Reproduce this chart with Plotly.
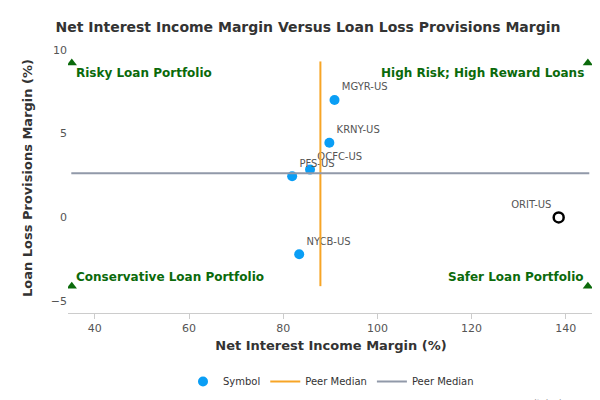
import plotly.graph_objects as go

symbols = ["MGYR-US", "KRNY-US", "OCFC-US", "PFS-US", "NYCB-US"]
nim = [90.9, 89.8, 85.7, 81.9, 83.4]
llp = [7.0, 4.45, 2.85, 2.45, -2.2]
orit_x, orit_y = [138.5], [0.0]
peer_x = 87.9
peer_y = 2.63
x_range = [34.3, 146]
y_range = [-5.7, 10.4]

fig = go.Figure()
fig.add_trace(go.Scatter(x=nim, y=llp, mode="markers+text", text=symbols,
                         textposition="top right", textfont=dict(size=10, color="#555"),
                         marker=dict(size=10, color="#0a9ef5"), name="Symbol"))
fig.add_trace(go.Scatter(x=orit_x, y=orit_y, mode="markers+text", text=["ORIT-US"],
                         textposition="top left", textfont=dict(size=10, color="#555"),
                         marker=dict(size=10, color="white", line=dict(color="black", width=2.5)),
                         showlegend=False))
fig.add_trace(go.Scatter(x=[peer_x, peer_x], y=[-4.1, 9.3], mode="lines",
                         line=dict(color="#f7a526", width=2), name="Peer Median"))
fig.add_trace(go.Scatter(x=[35, 145], y=[peer_y, peer_y], mode="lines",
                         line=dict(color="#9199a9", width=2), name="Peer Median"))
fig.add_trace(go.Scatter(x=[35.1, 144.7, 35.1, 144.7], y=[9.2, 9.2, -4.1, -4.1], mode="markers",
                         marker=dict(symbol="triangle-up", size=9, color="#0b6a0b"),
                         showlegend=False, hoverinfo="skip"))

corner = [("Risky Loan Portfolio", 35.6, 8.6, "left"),
          ("High Risk; High Reward Loans", 144.2, 8.6, "right"),
          ("Conservative Loan Portfolio", 35.6, -3.55, "left"),
          ("Safer Loan Portfolio", 144.2, -3.55, "right")]
for t, x, y, a in corner:
    fig.add_annotation(x=x, y=y, text="<b>" + t + "</b>", showarrow=False, xanchor=a,
                       font=dict(size=12, color="#0b6a0b", family="DejaVu Sans"))

fig.add_annotation(x=1, y=-0.36, xref="paper", yref="paper", text="www.capitalcube.com",
                   showarrow=False, xanchor="right", font=dict(size=9, color="#999"))

fig.update_layout(
    width=600, height=400, plot_bgcolor="white", paper_bgcolor="white",
    margin=dict(l=60, r=14, t=35, b=82),
    font=dict(family="DejaVu Sans", color="#333"),
    title=dict(text="<b>Net Interest Income Margin Versus Loan Loss Provisions Margin</b>",
               x=0.5, y=0.965, font=dict(size=14, color="#333")),
    xaxis=dict(range=x_range, tickvals=[40, 60, 80, 100, 120, 140], showgrid=False,
               zeroline=False, showline=True, linecolor="#ccc", ticks="outside",
               tickcolor="#ccc", tickfont=dict(size=11, color="#555"),
               title=dict(text="<b>Net Interest Income Margin (%)</b>", font=dict(size=13), standoff=6)),
    yaxis=dict(range=y_range, tickvals=[-5, 0, 5, 10], showgrid=False, zeroline=False,
               tickfont=dict(size=11, color="#555"),
               title=dict(text="<b>Loan Loss Provisions Margin (%)</b>", font=dict(size=13))),
    legend=dict(orientation="h", x=0.5, xanchor="center", y=-0.2, font=dict(size=10)),
)
fig.write_html("out.html")
